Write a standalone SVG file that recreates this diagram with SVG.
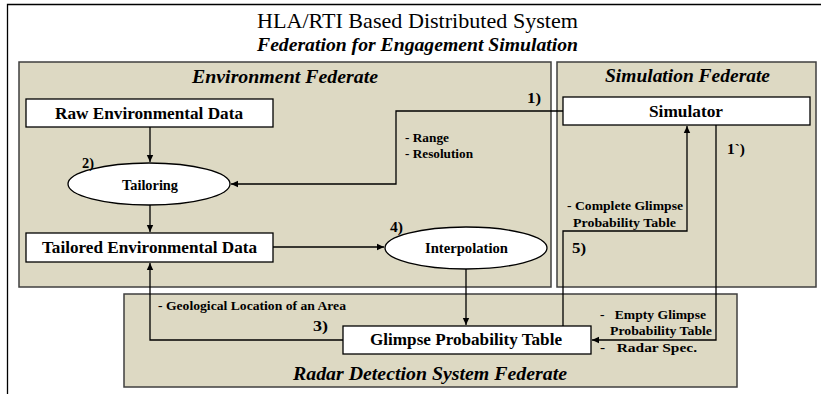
<svg xmlns="http://www.w3.org/2000/svg" width="821" height="394" viewBox="0 0 821 394">
<defs>
<marker id="arr" markerWidth="8" markerHeight="8" refX="7" refY="4" orient="auto" markerUnits="userSpaceOnUse">
<path d="M0,0.8 L7,4 L0,7.2 Z" fill="#000"/>
</marker>
</defs>
<style>
.panel{fill:#ddd9c3;stroke:#3f3f3f;stroke-width:1.5}
.box{fill:#fff;stroke:#000;stroke-width:1.3}
.conn{fill:none;stroke:#000;stroke-width:1.3}
text{font-family:"Liberation Serif","Times New Roman",serif;fill:#000}
.bi{font-weight:bold;font-style:italic}
.node{font-weight:bold}
.lab{font-weight:bold;font-size:13px}
.num{font-weight:bold;font-size:15px}
</style>
<rect width="821" height="394" fill="#fff"/>
<g id="frame">
<path d="M7.5,394 L7.5,4.5 L821,4.5" fill="none" stroke="#000" stroke-width="1.3"/>
<text x="257" y="28" font-size="21.5" textLength="321" lengthAdjust="spacingAndGlyphs">HLA/RTI Based Distributed System</text>
<text x="257" y="51" font-size="19" class="bi" textLength="321" lengthAdjust="spacingAndGlyphs">Federation for Engagement Simulation</text>
</g>
<g id="env-federate">
<rect class="panel" x="19" y="62" width="532" height="225"/>
<text x="192" y="83" font-size="19.5" class="bi" textLength="186" lengthAdjust="spacingAndGlyphs">Environment  Federate</text>
</g>
<g id="sim-federate">
<rect class="panel" x="557" y="62" width="259" height="225"/>
<text x="605" y="82" font-size="19.5" class="bi" textLength="165" lengthAdjust="spacingAndGlyphs">Simulation Federate</text>
</g>
<g id="radar-federate">
<rect class="panel" x="124" y="294" width="613" height="93"/>
<text x="293" y="380" font-size="19.5" class="bi" textLength="274" lengthAdjust="spacingAndGlyphs">Radar Detection System  Federate</text>
</g>
<g id="raw-data">
<rect class="box" x="26" y="99" width="247" height="28"/>
<text class="node" x="55" y="119" font-size="16.5" textLength="188" lengthAdjust="spacingAndGlyphs">Raw Environmental Data</text>
</g>
<g id="tailoring">
<ellipse class="box" cx="149" cy="184" rx="81" ry="21"/>
<text class="node" x="122" y="190" font-size="14" textLength="56" lengthAdjust="spacingAndGlyphs">Tailoring</text>
</g>
<g id="tailored-data">
<rect class="box" x="26" y="233" width="247" height="29"/>
<text class="node" x="42" y="253" font-size="16.5" textLength="215" lengthAdjust="spacingAndGlyphs">Tailored Environmental Data</text>
</g>
<g id="interpolation">
<ellipse class="box" cx="466" cy="248" rx="81" ry="21"/>
<text class="node" x="425" y="253" font-size="14.5" textLength="83" lengthAdjust="spacingAndGlyphs">Interpolation</text>
</g>
<g id="simulator">
<rect class="box" x="563" y="97" width="247" height="28"/>
<text class="node" x="649" y="117" font-size="16.5" textLength="74" lengthAdjust="spacingAndGlyphs">Simulator</text>
</g>
<g id="glimpse-table">
<rect class="box" x="343" y="326" width="248" height="28"/>
<text class="node" x="370" y="345" font-size="16.5" textLength="192" lengthAdjust="spacingAndGlyphs">Glimpse Probability Table</text>
</g>
<g id="connectors">
<path class="conn" d="M563,111 L396,111 L396,184 L231,184" marker-end="url(#arr)"/>
<path class="conn" d="M150,127 L150,162" marker-end="url(#arr)"/>
<path class="conn" d="M150,205 L150,232" marker-end="url(#arr)"/>
<path class="conn" d="M273,247 L384,247" marker-end="url(#arr)"/>
<path class="conn" d="M466,269 L466,325" marker-end="url(#arr)"/>
<path class="conn" d="M343,340 L150,340 L150,263" marker-end="url(#arr)"/>
<path class="conn" d="M563,326 L563,231 L687,231 L687,126" marker-end="url(#arr)"/>
<path class="conn" d="M716,125 L716,340 L592,340" marker-end="url(#arr)"/>
<text class="num" x="527" y="103" textLength="14" lengthAdjust="spacingAndGlyphs">1)</text>
<text class="lab" x="405" y="142" textLength="44" lengthAdjust="spacingAndGlyphs">- Range</text>
<text class="lab" x="405" y="158" textLength="68" lengthAdjust="spacingAndGlyphs">- Resolution</text>
<text class="num" x="82" y="168" textLength="12" lengthAdjust="spacingAndGlyphs">2)</text>
<text class="num" x="390" y="232" textLength="13" lengthAdjust="spacingAndGlyphs">4)</text>
<text class="lab" x="158" y="310" textLength="188" lengthAdjust="spacingAndGlyphs">- Geological Location of an Area</text>
<text class="num" x="313" y="331" textLength="15" lengthAdjust="spacingAndGlyphs">3)</text>
<text class="lab" x="567" y="210" textLength="116" lengthAdjust="spacingAndGlyphs">- Complete Glimpse</text>
<text class="lab" x="573" y="227" textLength="103" lengthAdjust="spacingAndGlyphs">Probability Table</text>
<text class="num" x="572" y="253" textLength="14" lengthAdjust="spacingAndGlyphs">5)</text>
<text class="num" x="727" y="154" textLength="18" lengthAdjust="spacingAndGlyphs">1`)</text>
<text class="lab" x="600" y="319" xml:space="preserve" textLength="106" lengthAdjust="spacingAndGlyphs">-   Empty Glimpse</text>
<text class="lab" x="610" y="335" textLength="102" lengthAdjust="spacingAndGlyphs">Probability Table</text>
<text class="lab" x="600" y="352" xml:space="preserve" textLength="97" lengthAdjust="spacingAndGlyphs">-   Radar Spec.</text>
</g>
</svg>
